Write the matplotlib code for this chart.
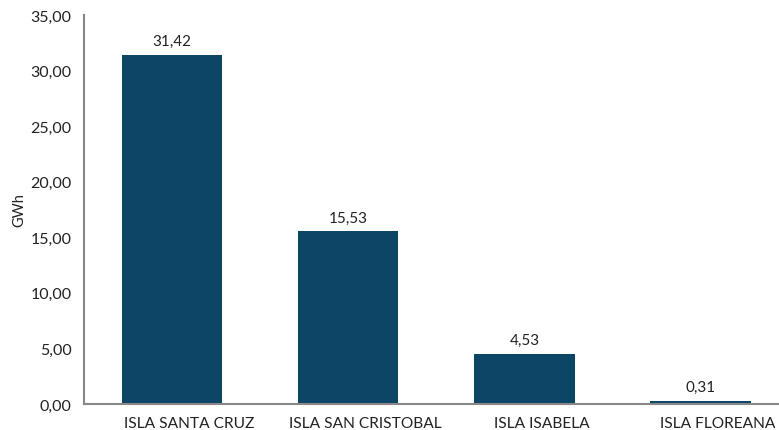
import matplotlib
matplotlib.use("Agg")
import matplotlib.pyplot as plt
import matplotlib.transforms as mtransforms
from matplotlib.ticker import FuncFormatter

categories = ["ISLA SANTA CRUZ", "ISLA SAN CRISTOBAL", "ISLA ISABELA", "ISLA FLOREANA"]
values = [31.42, 15.53, 4.53, 0.31]
yticks = [0, 5, 10, 15, 20, 25, 30, 35]

plt.rcParams['font.family'] = ['Lato', 'DejaVu Sans']

fig = plt.figure(figsize=(7.79, 4.31), dpi=100)
ax = fig.add_axes([84/779, 1-405/431, 1-84/779, (405-16)/431])

x = list(range(len(categories)))
bars = ax.bar(x, values, width=0.57, color="#0C4667")
for xi, v in zip(x, values):
    ax.text(xi, v + 0.6, f"{v:.2f}".replace(".", ","), ha="center", va="bottom", fontsize=11, color="#222222")

ax.set_xlim(-0.5, 3.445)
ax.set_ylim(0, 35)
ax.set_yticks(yticks)
ax.yaxis.set_major_formatter(FuncFormatter(lambda v, p: f"{v:.2f}".replace(".", ",")))
ax.set_xticks(x)
ax.set_xticklabels(categories)
ax.tick_params(axis="y", length=0, labelsize=11.5, colors="#222222", pad=9)
ax.tick_params(axis="x", length=0, labelsize=11.2, colors="#222222", pad=9)
offset = mtransforms.ScaledTranslation(0.17, 0, fig.dpi_scale_trans)
for lbl in ax.get_xticklabels():
    lbl.set_transform(lbl.get_transform() + offset)
ax.set_ylabel("GWh", fontsize=10.5, color="#222222")
ax.yaxis.set_label_coords(-0.0835, 0.5)

for s in ["top", "right"]:
    ax.spines[s].set_visible(False)
for s in ["left", "bottom"]:
    ax.spines[s].set_color("#888888")
    ax.spines[s].set_linewidth(1.5)

fig.savefig("out.png", dpi=100)
